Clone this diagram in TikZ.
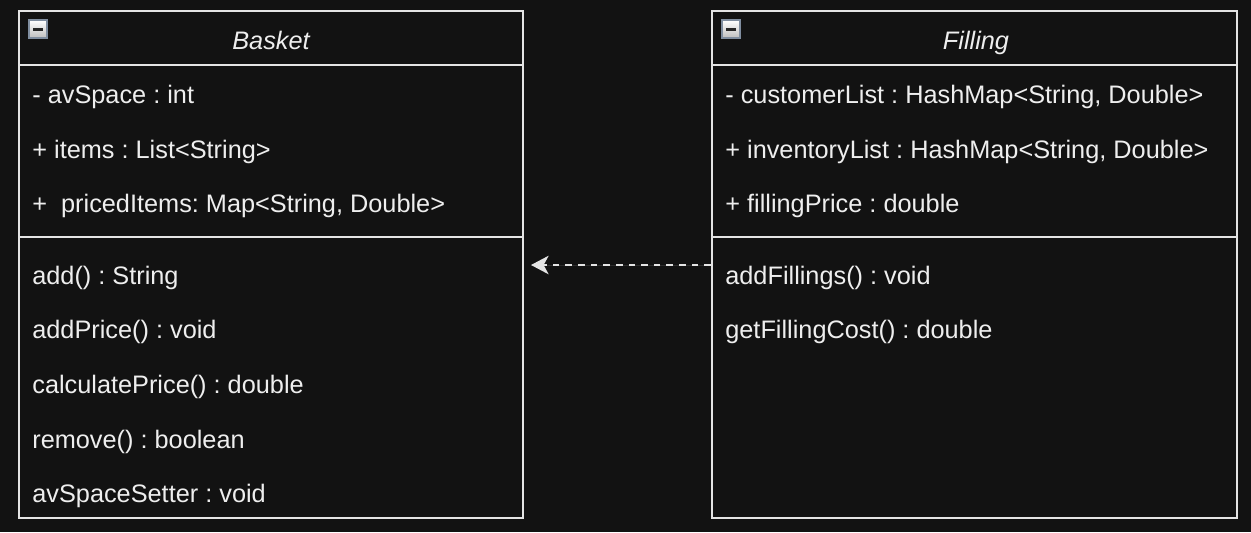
\documentclass[tikz,border=0pt]{standalone}
\usepackage{fontspec}
\setmainfont{Liberation Sans}
\usepackage{xcolor}
\usetikzlibrary{arrows.meta, positioning, calc}
\definecolor{bgdark}{RGB}{18,18,18}
\definecolor{linegray}{RGB}{228,228,228}
\definecolor{textgray}{RGB}{238,238,238}
\definecolor{iconedge}{RGB}{128,142,160}
\frenchspacing

\begin{document}
\begin{tikzpicture}[
    x=0.02cm, y=-0.02cm,
    compart/.style={rectangle, draw=linegray, line width=1.1pt, inner sep=0pt},
    classname/.style={anchor=base, inner sep=0pt, text=textgray, font=\fontsize{14.4}{17}\selectfont\itshape},
    member/.style={anchor=base west, inner sep=0pt, text=textgray, font=\fontsize{14.4}{17}\selectfont},
    icon/.style={rectangle, draw=iconedge, line width=1.1pt, minimum size=0.35cm, inner sep=0pt, top color=white, bottom color=black!25},
    dep/.style={-{Stealth[length=10pt, width=10.5pt, inset=2.8pt]}, draw=linegray, fill=linegray, line width=1.1pt, dash pattern=on 3.8pt off 3.4pt}
]
% Background
\fill[bgdark] (0,0) rectangle (1251,532);
\useasboundingbox (0,0) rectangle (1251,532);

% Basket class
\node[compart, minimum width=10.08cm, minimum height=1.08cm] (baskethead) at (271,38) {};
\node[compart, minimum width=10.08cm, minimum height=3.44cm] (basketattrs) at (271,151) {};
\node[compart, minimum width=10.08cm, minimum height=5.62cm] (basketops) at (271,377.5) {};
\node[icon] (basketicon) at (38,29) {};
\fill[black!85] ($(basketicon.center)+(-5,-1.5)$) rectangle ($(basketicon.center)+(5,1.5)$);
\node[classname] (baskettitle) at (271,49) {Basket};

\node[member] (avspace) at (32,103) {- avSpace : int};
\node[member] (items) at (32,158) {+ items : List<String>};
\node[member] (priceditems) at (32,212) {+\ \ pricedItems: Map<String, Double>};
\node[member] (add) at (32,284) {add() : String};
\node[member] (addprice) at (32,338) {addPrice() : void};
\node[member] (calcprice) at (32,393) {calculatePrice() : double};
\node[member] (remove) at (32,448) {remove() : boolean};
\node[member] (setter) at (32,502) {avSpaceSetter : void};

% Filling class
\node[compart, minimum width=10.5cm, minimum height=1.08cm] (fillinghead) at (974.5,38) {};
\node[compart, minimum width=10.5cm, minimum height=3.44cm] (fillingattrs) at (974.5,151) {};
\node[compart, minimum width=10.5cm, minimum height=5.62cm] (fillingops) at (974.5,377.5) {};
\node[icon] (fillingicon) at (731,29) {};
\fill[black!85] ($(fillingicon.center)+(-5,-1.5)$) rectangle ($(fillingicon.center)+(5,1.5)$);
\node[classname] (fillingtitle) at (976,49) {Filling};

\node[member] (customers) at (725,103) {- customerList : HashMap<String, Double>};
\node[member] (inventory) at (725,158) {+ inventoryList : HashMap<String, Double>};
\node[member] (fillprice) at (725,212) {+ fillingPrice : double};
\node[member] (addfillings) at (725,284) {addFillings() : void};
\node[member] (fillcost) at (725,338) {getFillingCost() : double};

% Dependency
\coordinate (depend) at (531,265);
\draw[dep] (fillingops.west |- depend) -- (depend);
\end{tikzpicture}
\end{document}
